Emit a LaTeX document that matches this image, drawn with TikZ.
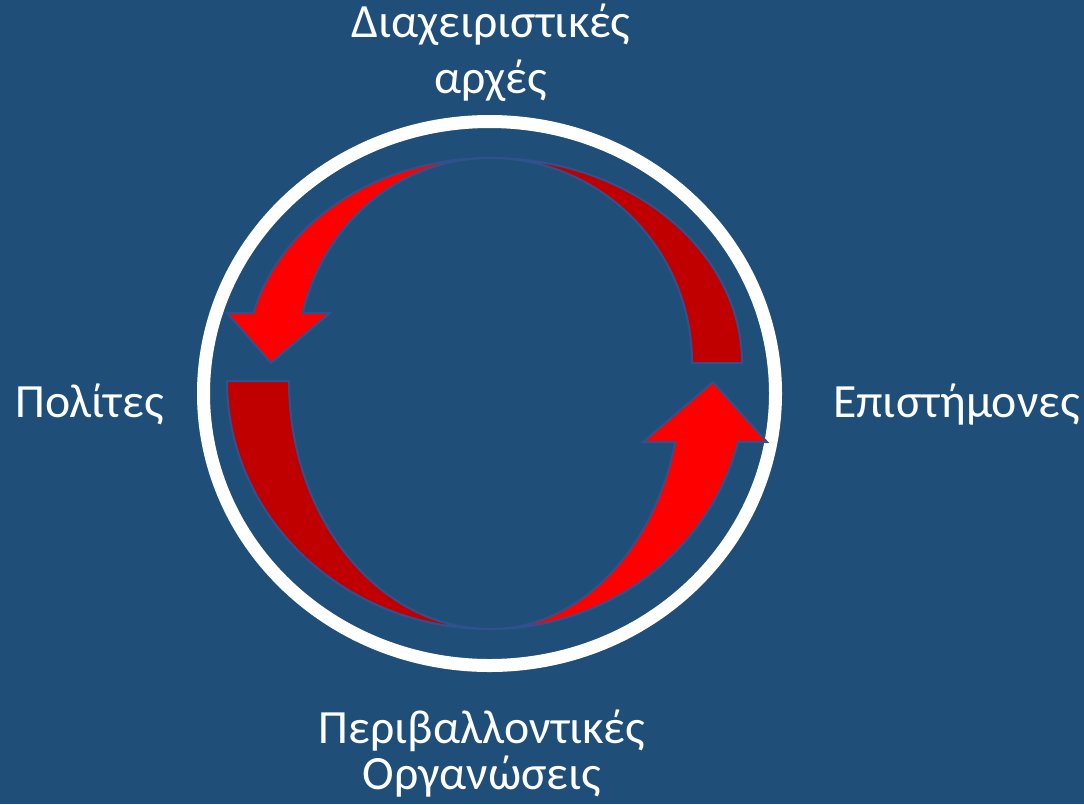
\documentclass[tikz,border=0pt]{standalone}
\usepackage{fontspec}
\setmainfont{Carlito}
\usetikzlibrary{positioning,calc}
\definecolor{bgblue}{HTML}{1F4E79}
\definecolor{arrowred}{HTML}{FF0000}
\definecolor{bandred}{HTML}{C00000}
\definecolor{rimblue}{HTML}{2F528F}
\tikzset{
  lbl/.style={text=white, align=center, inner sep=0pt,
              font=\fontsize{35.8}{41.5}\selectfont},
  cyc/.style={draw=rimblue, line width=1.5pt, line join=miter},
  ring/.style={draw=white, line width=9.75pt}
}

\begin{document}
\begin{tikzpicture}[x=0.75pt, y=-0.75pt]
\fill[bgblue] (0,0) rectangle (1084,804);
\useasboundingbox (0,0) rectangle (1084,804);
\coordinate (c) at (489.5,393.5);
\draw[ring] (c) ellipse [x radius=286, y radius=272];
% the two plain bands
\fill[bandred, cyc] (490,158) arc[start angle=270, end angle=360, x radius=252, y radius=205]
  -- (692,363) arc[start angle=0, end angle=-90, x radius=202, y radius=205] -- cycle;
\fill[bandred, cyc] (227,381) arc[start angle=180, end angle=90, x radius=263, y radius=248]
  arc[start angle=90, end angle=180, x radius=201, y radius=248] -- cycle;
% the two arrows
\fill[arrowred, cyc] (490,158) arc[start angle=270, end angle=194.1, x radius=244, y radius=205]
  -- (227,313) -- (271,363) -- (330,313) -- (302.8,313)
  arc[start angle=194.1, end angle=270, x radius=193, y radius=205] -- cycle;
\fill[arrowred, cyc] (490,629) arc[start angle=90, end angle=14.2, x radius=256, y radius=248]
  -- (767,442) -- (713,382) -- (643,442) -- (675.2,442)
  arc[start angle=14.2, end angle=90, x radius=191, y radius=248] -- cycle;
% labels
\node[lbl, anchor=base] (mgmt) at (491,93) {Διαχειριστικές\\αρχές};
\node[lbl, anchor=base west] (citz) at (15,417) {Πολίτες};
\node[lbl, anchor=base west] (sci) at (833,417) {Επιστήμονες};
\node[lbl, anchor=base, font=\fontsize{35.8}{34.5}\selectfont] (ngo) at (482,789) {Περιβαλλοντικές\\Οργανώσεις};
\end{tikzpicture}
\end{document}
